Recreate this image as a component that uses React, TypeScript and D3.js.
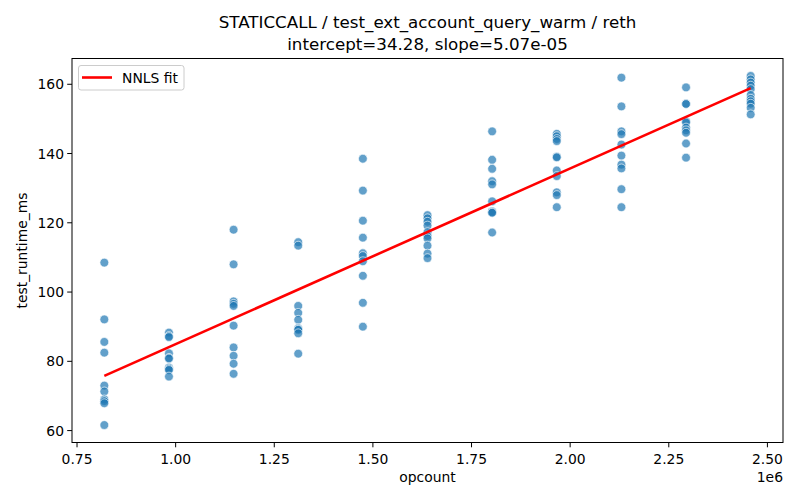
import React from 'react';
import * as d3 from 'd3';

const opcounts = [819200, 983040, 1146880, 1310720, 1474560, 1638400, 1802240, 1966080, 2129920, 2293760, 2457600];

const runtimes = [
  [108.5, 92.1, 85.6, 82.5, 73.0, 71.3, 69.0, 68.5, 67.9, 61.6],
  [88.3, 87.3, 87.0, 82.3, 81.0, 80.8, 78.2, 77.8, 77.5, 75.6],
  [118.0, 108.0, 97.3, 96.6, 96.0, 90.3, 84.0, 81.6, 79.3, 76.4],
  [114.4, 113.4, 96.0, 94.0, 92.0, 89.6, 89.3, 89.1, 88.1, 82.2],
  [138.5, 129.3, 120.6, 115.7, 111.2, 110.4, 108.9, 104.7, 96.9, 90.0],
  [122.2, 121.3, 120.3, 119.2, 117.3, 116.2, 115.5, 113.4, 111.1, 109.8],
  [146.4, 138.2, 135.6, 132.0, 131.1, 126.2, 123.3, 123.0, 122.9, 117.2],
  [145.7, 145.0, 144.2, 143.6, 139.1, 138.9, 135.1, 133.5, 128.8, 128.0, 124.5],
  [161.9, 153.6, 146.4, 145.6, 142.6, 139.4, 136.8, 135.7, 129.7, 124.5],
  [159.1, 154.4, 154.3, 149.3, 149.0, 147.5, 146.7, 146.0, 142.9, 138.8],
  [162.4, 161.4, 160.5, 159.6, 158.6, 156.9, 155.8, 155.1, 154.4, 153.2, 151.3],
];

const intercept = 34.28;
const slope = 5.07e-5;

const xTicks = [750000, 1000000, 1250000, 1500000, 1750000, 2000000, 2250000, 2500000];
const yTicks = [60, 80, 100, 120, 140, 160];

const W = 800;
const H = 500;
const left = 72;
const right = 783;
const top = 58.5;
const bottom = 442.5;
const font = 'DejaVu Sans, sans-serif';

export default () => {
  const points = opcounts.flatMap((x, i) => runtimes[i].map((y) => ({ x, y })));
  const xMin = d3.min(opcounts)!;
  const xMax = d3.max(opcounts)!;
  const yMin = d3.min(points, (d) => d.y)!;
  const yMax = d3.max(points, (d) => d.y)!;
  const xPad = (xMax - xMin) * 0.05;
  const yPad = (yMax - yMin) * 0.05;

  const x = d3.scaleLinear().domain([xMin - xPad, xMax + xPad]).range([left, right]);
  const y = d3.scaleLinear().domain([yMin - yPad, yMax + yPad]).range([bottom, top]);

  const fit = [xMin, xMax].map((v) => ({ x: v, y: intercept + slope * v }));
  const line = d3.line<{ x: number; y: number }>().x((d) => x(d.x)).y((d) => y(d.y));

  return (
    <svg width={W} height={H} style={{ position: 'absolute', left: 0, top: 0, background: '#fff' }} fontFamily={font}>
      <rect width={W} height={H} fill="#fff" />
      <text x={(left + right) / 2} y={28} textAnchor="middle" fontSize={16.7}>
        STATICCALL / test_ext_account_query_warm / reth
      </text>
      <text x={(left + right) / 2} y={50} textAnchor="middle" fontSize={16.7}>
        intercept=34.28, slope=5.07e-05
      </text>

      {points.map((d, i) => (
        <circle key={i} cx={x(d.x)} cy={y(d.y)} r={4.4} fill="#1f77b4" fillOpacity={0.7} stroke="#fff" strokeOpacity={0.7} strokeWidth={0.9} />
      ))}

      <path d={line(fit)!} stroke="#ff0000" strokeWidth={2.6} fill="none" />

      <rect x={left} y={top} width={right - left} height={bottom - top} fill="none" stroke="#000" strokeWidth={1} />

      {xTicks.map((t) => (
        <g key={t} transform={`translate(${x(t)},${bottom})`}>
          <line y2={4.8} stroke="#000" />
          <text y={21} textAnchor="middle" fontSize={13.9}>
            {(t / 1e6).toFixed(2)}
          </text>
        </g>
      ))}
      <text x={right} y={482} textAnchor="end" fontSize={13.9}>1e6</text>
      <text x={(left + right) / 2} y={482} textAnchor="middle" fontSize={13.9}>opcount</text>

      {yTicks.map((t) => (
        <g key={t} transform={`translate(${left},${y(t)})`}>
          <line x2={-4.8} stroke="#000" />
          <text x={-8} y={5} textAnchor="end" fontSize={13.9}>
            {t}
          </text>
        </g>
      ))}
      <text transform={`translate(27,${(top + bottom) / 2}) rotate(-90)`} textAnchor="middle" fontSize={13.9}>
        test_runtime_ms
      </text>

      <g>
        <rect x={78.5} y={65.5} width={105.5} height={24.5} rx={2.5} fill="#fff" fillOpacity={0.8} stroke="#ccc" strokeWidth={1} />
        <line x1={82} x2={112} y1={77.5} y2={77.5} stroke="#ff0000" strokeWidth={2.6} />
        <text x={122} y={83} fontSize={13.9}>NNLS fit</text>
      </g>
    </svg>
  );
};
